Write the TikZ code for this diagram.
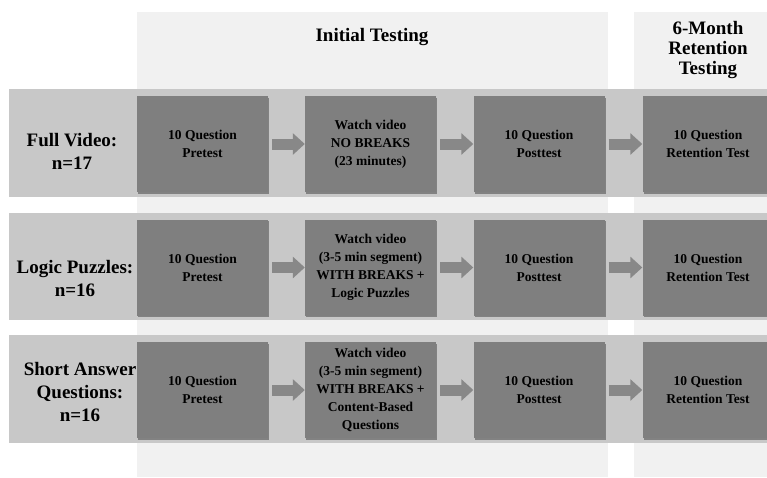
\documentclass[tikz,border=0pt]{standalone}
\usepackage{fontspec}
\setmainfont{Liberation Serif}
\usetikzlibrary{arrows.meta,shadows}

\definecolor{colbg}{RGB}{241,241,241}
\definecolor{rowbg}{RGB}{200,200,200}
\definecolor{boxgray}{RGB}{127,127,127}
\definecolor{arrgray}{RGB}{136,136,136}

\tikzset{
  stepbox/.style={rectangle, fill=boxgray, minimum width=131pt, minimum height=96pt,
    inner sep=0pt, align=center, font=\fontsize{13.5}{18}\selectfont\bfseries,
    drop shadow={shadow xshift=1pt, shadow yshift=-1.5pt, opacity=.35, fill=black}},
  grouplabel/.style={align=center, font=\fontsize{19}{23}\selectfont\bfseries},
  phasehead/.style={align=center, font=\fontsize{19}{20}\selectfont\bfseries}
}

\begin{document}
\begin{tikzpicture}[x=1pt,y=-1pt]

        \useasboundingbox (0,0) rectangle (767,477);
        \fill[white] (0,0) rectangle (767,477);

        % columns
        \fill[colbg] (137,12) rectangle (608,477);
        \fill[colbg] (634,12) rectangle (767,477);

        % rows
        \fill[rowbg] (9,89)  rectangle (767,197);
        \fill[rowbg] (9,213) rectangle (767,320);
        \fill[rowbg] (9,335) rectangle (767,443);

        \begin{scope}[every node/.style={phasehead}]
          \node (16) at (372,37) {Initial Testing};
          \node (17) at (708,50) {6-Month\\Retention\\Testing};
        \end{scope}

        \begin{scope}[every node/.style={grouplabel}]
          \node (13) at (72,151)  {Full Video:\\n=17};
          \node (14) at (75,278)  {Logic Puzzles:\\n=16};
          \node (15) at (80,392)  {Short Answer\\Questions:\\n=16};
        \end{scope}

        \begin{scope}[every node/.style={stepbox}]
          \node (1)  at (202.5,144) {10 Question\\Pretest};
          \node (2)  at (370.5,144) {Watch video\\NO BREAKS\\(23 minutes)};
          \node (3)  at (539,144)   {10 Question\\Posttest};
          \node (4)  at (708,144)   {10 Question\\Retention Test};
          \node (5)  at (202.5,267.5) {10 Question\\Pretest};
          \node (6)  at (370.5,267.5) {Watch video\\(3-5 min segment)\\WITH BREAKS +\\Logic Puzzles};
          \node (7)  at (539,267.5)   {10 Question\\Posttest};
          \node (8)  at (708,267.5)   {10 Question\\Retention Test};
          \node (9)  at (202.5,390) {10 Question\\Pretest};
          \node (10) at (370.5,390) {Watch video\\(3-5 min segment)\\WITH BREAKS +\\Content-Based\\Questions};
          \node (11) at (539,390)   {10 Question\\Posttest};
          \node (12) at (708,390)   {10 Question\\Retention Test};
        \end{scope}

        \begin{scope}[every edge/.style={draw=arrgray, line width=11pt, shorten <=4pt,
            -{Triangle[length=12pt,width=21pt]}}]
          \path (1)  edge (2);
          \path (2)  edge (3);
          \path (3)  edge (4);
          \path (5)  edge (6);
          \path (6)  edge (7);
          \path (7)  edge (8);
          \path (9)  edge (10);
          \path (10) edge (11);
          \path (11) edge (12);
        \end{scope}

      \end{tikzpicture}
\end{document}
